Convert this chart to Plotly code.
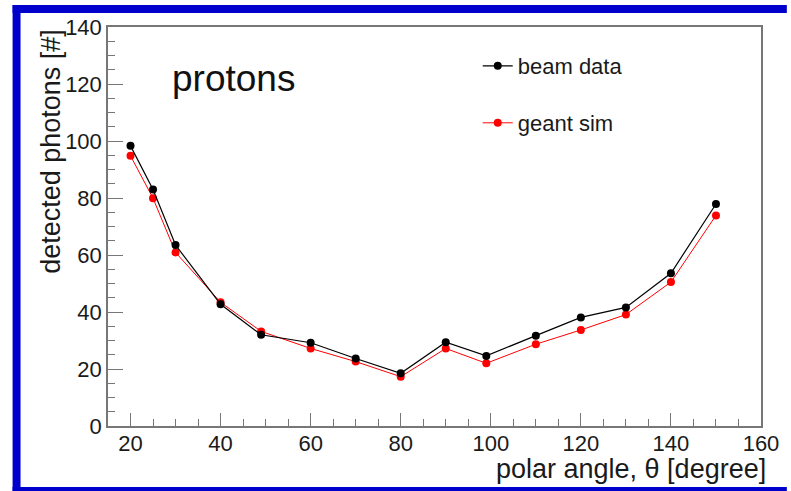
import plotly.graph_objects as go

angles = [20, 25, 30, 40, 49, 60, 70, 80, 90, 99, 110, 120, 130, 140, 150]
beam_data = [98.3, 83.0, 63.5, 42.7, 32.0, 29.2, 23.7, 18.5, 29.4, 24.6, 31.7, 38.1, 41.6, 53.6, 77.9]
geant_sim = [94.8, 79.9, 60.9, 43.4, 33.2, 27.2, 22.6, 17.3, 27.2, 22.0, 28.7, 33.7, 39.1, 50.5, 73.9]
x_ticks = [20, 40, 60, 80, 100, 120, 140, 160]
y_ticks = [0, 20, 40, 60, 80, 100, 120, 140]

W, H = 791, 491
L, R, T, B = 108, 765, 27, 426
FONT = "Liberation Sans, Arial, sans-serif"
TXT = "#1a1a1a"

fig = go.Figure()
fig.add_trace(go.Scatter(x=angles, y=geant_sim, mode="lines+markers", name="geant sim",
                         line=dict(color="red", width=1), marker=dict(color="red", size=8),
                         legend="legend2"))
fig.add_trace(go.Scatter(x=angles, y=beam_data, mode="lines+markers", name="beam data",
                         line=dict(color="black", width=1.2), marker=dict(color="black", size=8),
                         legend="legend"))

def px(xp):
    return (xp - L) / (R - L)

def py(yp):
    return (B - yp) / (B - T)

blue = "#0000cc"
shapes = [
    dict(type="rect", xref="paper", yref="paper", x0=px(12), x1=px(791), y0=py(5), y1=py(13),
         fillcolor=blue, line=dict(width=0), layer="above"),
    dict(type="rect", xref="paper", yref="paper", x0=px(12), x1=px(20), y0=py(5), y1=py(491),
         fillcolor=blue, line=dict(width=0), layer="above"),
    dict(type="rect", xref="paper", yref="paper", x0=px(12), x1=px(791), y0=py(487), y1=py(491),
         fillcolor=blue, line=dict(width=0), layer="above"),
]

axcol = "#777777"
fig.update_layout(
    width=W, height=H,
    margin=dict(l=L, r=W - R, t=T, b=H - B),
    paper_bgcolor="white", plot_bgcolor="white",
    font=dict(family=FONT, color=TXT),
    shapes=shapes,
    showlegend=True,
    legend=dict(x=px(480), y=py(45), xanchor="left", yanchor="top", bgcolor="rgba(0,0,0,0)",
                font=dict(size=22, family=FONT, color=TXT)),
    legend2=dict(x=px(480), y=py(102), xanchor="left", yanchor="top", bgcolor="rgba(0,0,0,0)",
                 font=dict(size=22, family=FONT, color=TXT)),
    annotations=[
        dict(text="protons", xref="paper", yref="paper", x=px(170), y=py(78), xanchor="left",
             yanchor="middle", showarrow=False, font=dict(size=37, family=FONT, color="#111111")),
        dict(text="polar angle, θ [degree]", xref="paper", yref="paper", x=px(772), y=py(469),
             xanchor="right", yanchor="middle", showarrow=False,
             font=dict(size=27, family=FONT, color=TXT)),
        dict(text="detected photons [#]", xref="paper", yref="paper", x=px(50), y=1.0,
             xanchor="center", yanchor="top", textangle=-90, showarrow=False,
             font=dict(size=27, family=FONT, color=TXT)),
    ],
    xaxis=dict(range=[15, 160], tickvals=x_ticks, ticks="inside", ticklen=13, tickwidth=1,
               tickcolor=axcol, showline=True, linecolor=axcol, linewidth=1.5, mirror=True,
               showgrid=False, zeroline=False, ticklabelstandoff=-3,
               tickfont=dict(size=22, family=FONT, color=TXT),
               minor=dict(dtick=5, ticks="inside", ticklen=7, tickcolor=axcol, showgrid=False)),
    yaxis=dict(range=[0, 140], tickvals=y_ticks, ticks="inside", ticklen=15, tickwidth=1,
               tickcolor=axcol, showline=True, linecolor=axcol, linewidth=1.5, mirror=True,
               showgrid=False, zeroline=False, tickfont=dict(size=22, family=FONT, color=TXT),
               minor=dict(dtick=5, ticks="inside", ticklen=7, tickcolor=axcol, showgrid=False)),
)

fig.write_html("out.html")
